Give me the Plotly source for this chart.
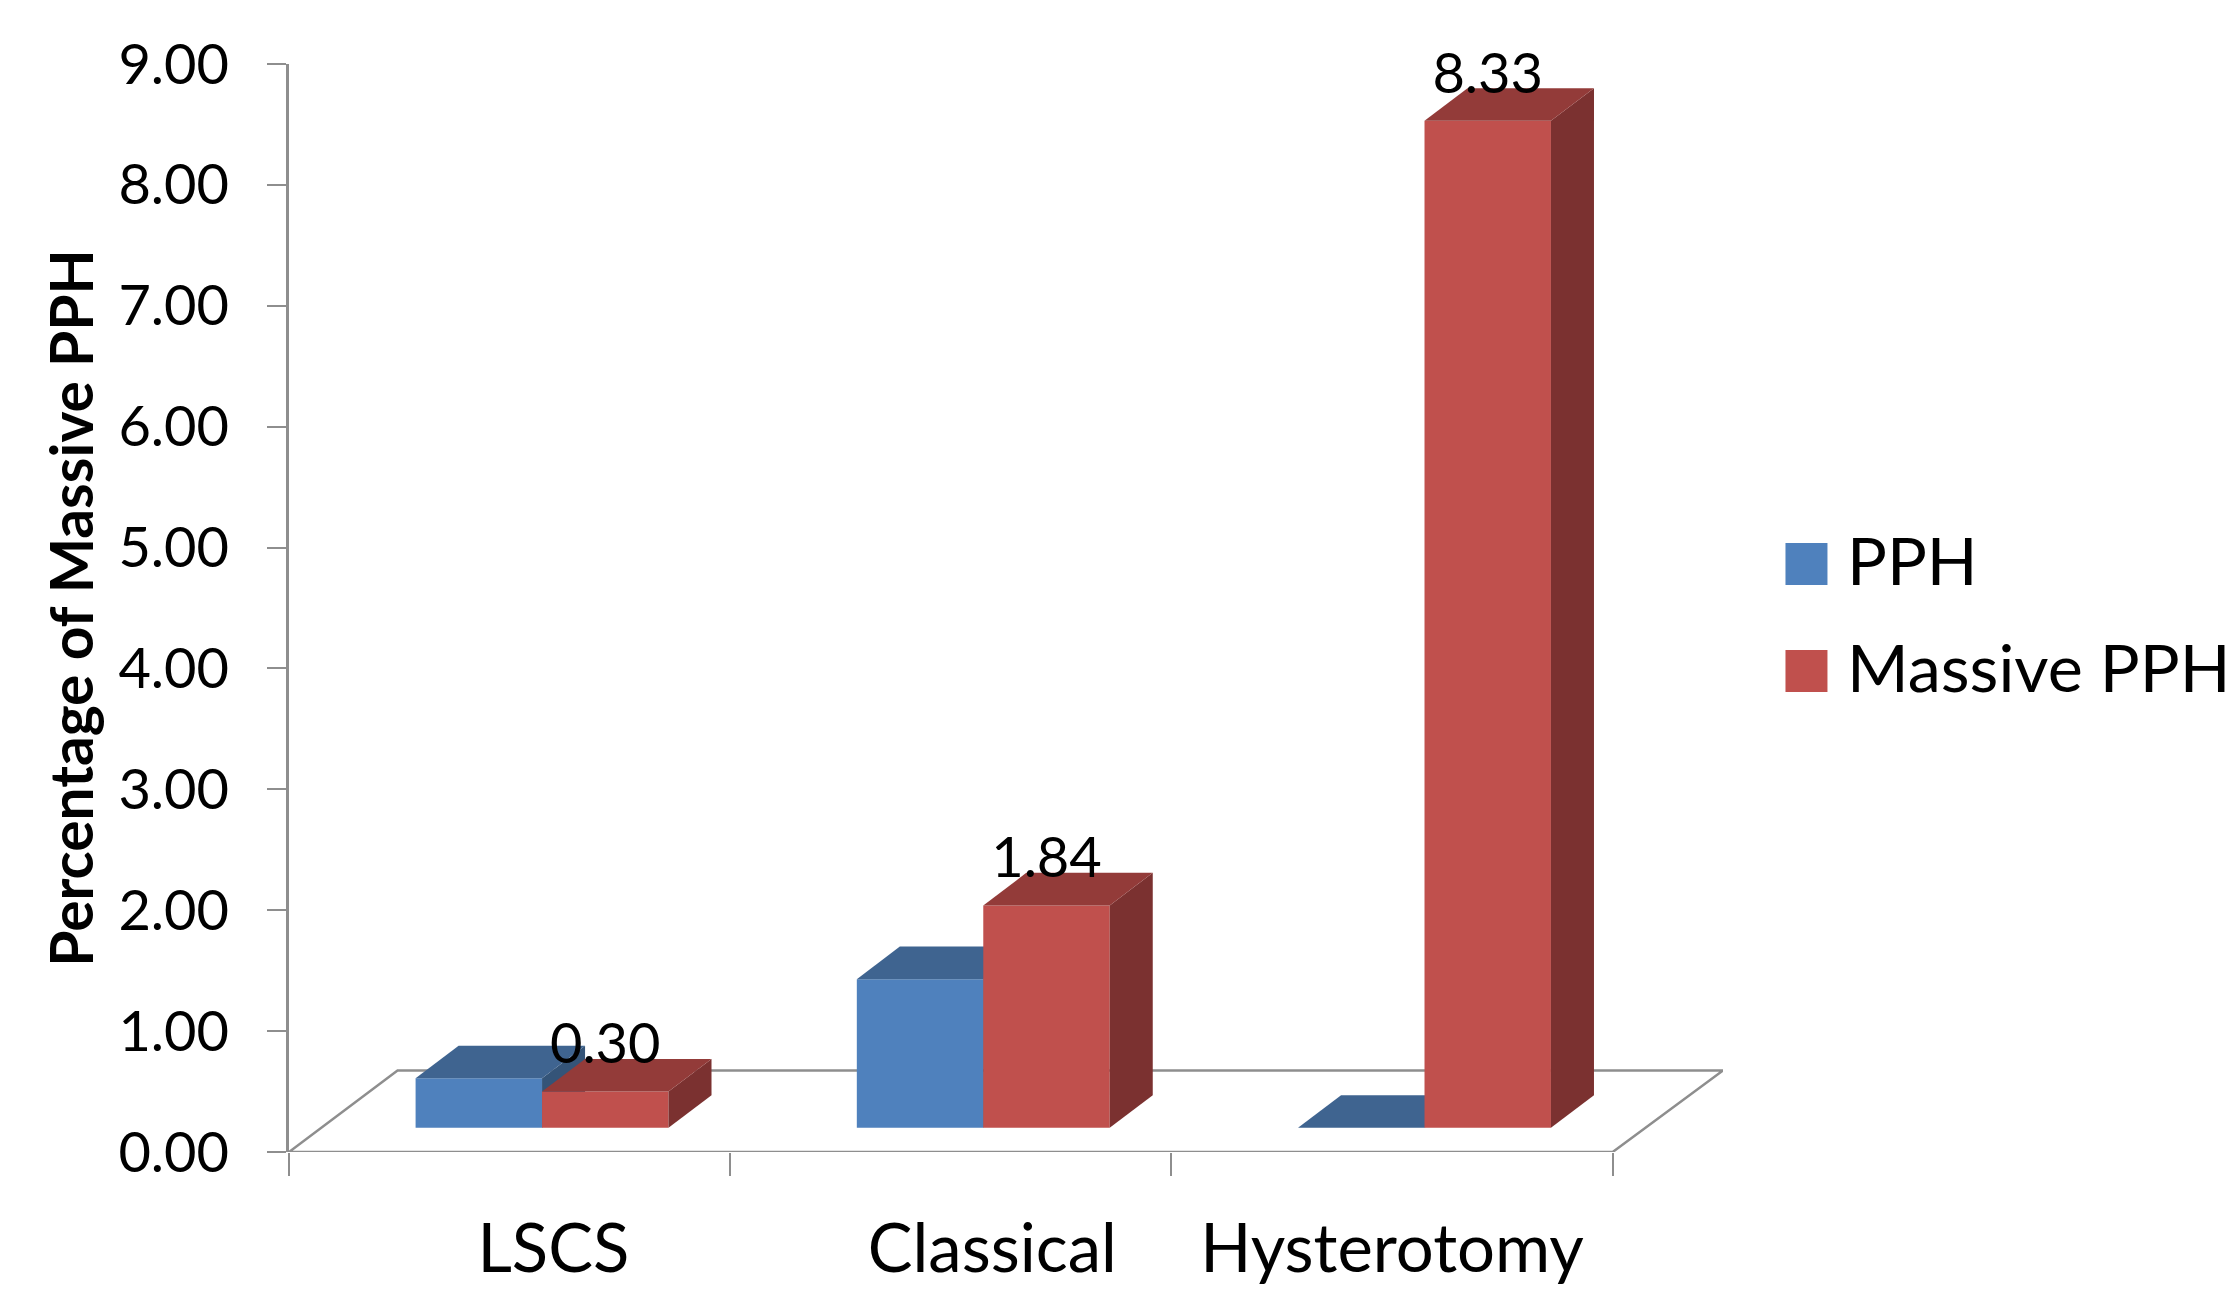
import plotly.graph_objects as go

# Data
categories = ["LSCS", "Classical", "Hysterotomy"]
pph = [0.41, 1.23, 0.0]
massive_pph = [0.30, 1.84, 8.33]
massive_labels = ["0.30", "1.84", "8.33"]
y_ticks = [0, 1, 2, 3, 4, 5, 6, 7, 8, 9]
y_tick_labels = ["0.00", "1.00", "2.00", "3.00", "4.00", "5.00", "6.00", "7.00", "8.00", "9.00"]
label_shift = [0.099, 0.094, 0.0]

# Geometry of the pseudo-3D drawing, in axis units
W, H = 2233, 1290
L, R, T, B = 289.0, 1723.5, 63.7, 1152.3
X_RANGE = [-0.5, 2.75]
Y_RANGE = [0, 9]
BAR_W = 0.2866
GROUP_SHIFT = 0.0735
FLOOR = 0.2
DX, DY = 0.0975, 0.269
FLOOR_DX, FLOOR_DY = 0.246, 0.674
FONT = "Lato"
BLUE = dict(front="#4F81BD", top="#3F6490", side="#345478")
RED = dict(front="#C0504D", top="#933B39", side="#7B3130")
GREY = "#8E8E8E"

fig = go.Figure()

# floor (lowest subplot)
fig.add_trace(go.Scatter(
    x=[-0.5, 2.5, 2.5 + FLOOR_DX + 0.004, -0.5 + FLOOR_DX, -0.5],
    y=[0, 0, FLOOR_DY, FLOOR_DY, 0],
    mode="lines", line=dict(color=GREY, width=2.5), cliponaxis=False,
    showlegend=False, hoverinfo="skip"))


def add_series(name, values, left_of_center, colors, ax):
    xa, ya = f"x{ax}", f"y{ax}"
    lefts = [i + GROUP_SHIFT + (-BAR_W if left_of_center else 0) for i in range(len(values))]
    for x0, v in zip(lefts, values):
        x1 = x0 + BAR_W
        top = FLOOR + v
        if v > 0:
            fig.add_trace(go.Scatter(
                x=[x1, x1 + DX, x1 + DX, x1, x1], y=[FLOOR, FLOOR + DY, top + DY, top, FLOOR],
                mode="lines", fill="toself", fillcolor=colors["side"], line=dict(width=0),
                xaxis=xa, yaxis=ya, showlegend=False, hoverinfo="skip", cliponaxis=False))
        fig.add_trace(go.Scatter(
            x=[x0, x1, x1 + DX, x0 + DX, x0], y=[top, top, top + DY, top + DY, top],
            mode="lines", fill="toself", fillcolor=colors["top"], line=dict(width=0),
            xaxis=xa, yaxis=ya, showlegend=False, hoverinfo="skip", cliponaxis=False))
    fig.add_trace(go.Bar(
        name=name, x=[l + BAR_W / 2 for l in lefts], y=values, base=[FLOOR] * len(values),
        width=BAR_W, marker=dict(color=colors["front"], line=dict(width=0)),
        xaxis=xa, yaxis=ya, showlegend=False))


add_series("PPH", pph, True, BLUE, 2)
add_series("Massive PPH", massive_pph, False, RED, 3)

# data labels on the red bars
fig.add_trace(go.Scatter(
    x=[i + GROUP_SHIFT + BAR_W / 2 for i in range(3)],
    y=[FLOOR + v + 0.35 for v in massive_pph],
    text=massive_labels, mode="text", textposition="middle center",
    textfont=dict(family=FONT, size=56, color="#000000"),
    xaxis="x3", yaxis="y3", showlegend=False, hoverinfo="skip", cliponaxis=False))

hidden = dict(visible=False, fixedrange=True)
fig.update_layout(
    width=W, height=H, autosize=False,
    margin=dict(l=L, r=W - R, t=T, b=H - B, pad=0, autoexpand=False),
    paper_bgcolor="#FFFFFF", plot_bgcolor="#FFFFFF",
    barmode="overlay", showlegend=False,
    font=dict(family=FONT, color="#000000"),
    xaxis=dict(
        range=X_RANGE, showgrid=False, zeroline=False, showline=False, automargin=False,
        tickmode="array", tickvals=[i + s for i, s in enumerate(label_shift)], ticktext=categories,
        ticks="", tickfont=dict(family=FONT, size=67, color="#000000"), ticklabelstandoff=52,
        minor=dict(tick0=-0.5, dtick=1, ticks="outside", ticklen=23, tickwidth=2, tickcolor=GREY, showgrid=False),
    ),
    yaxis=dict(
        range=Y_RANGE, showgrid=False, zeroline=False, showline=True, linecolor=GREY, linewidth=2.5,
        automargin=False,
        tickmode="array", tickvals=y_ticks, ticktext=y_tick_labels,
        ticks="outside", ticklen=19, tickwidth=2, tickcolor=GREY,
        tickfont=dict(family=FONT, size=56, color="#000000"), ticklabelstandoff=27,
        title=dict(text="<b>Percentage of Massive PPH</b>", font=dict(family=FONT, size=58.6, color="#000000"), standoff=6),
    ),
    xaxis2=dict(range=X_RANGE, overlaying="x", **hidden),
    yaxis2=dict(range=Y_RANGE, overlaying="y", **hidden),
    xaxis3=dict(range=X_RANGE, overlaying="x", **hidden),
    yaxis3=dict(range=Y_RANGE, overlaying="y", **hidden),
)

# hand-placed legend, to reach the reference's large swatches
legend_names = ["PPH", "Massive PPH"]
legend_colors = [BLUE["front"], RED["front"]]
legend_top = [543, 650]
for name, color, top in zip(legend_names, legend_colors, legend_top):
    fig.add_shape(type="rect", xref="paper", yref="paper",
                  x0=(1786 - L) / (R - L), x1=(1828 - L) / (R - L),
                  y0=(B - (top + 42)) / (B - T), y1=(B - top) / (B - T),
                  fillcolor=color, line=dict(width=0))
    fig.add_annotation(text=name, xref="paper", yref="paper",
                       x=(1846 - L) / (R - L), y=(B - (top + 16)) / (B - T),
                       xanchor="left", yanchor="middle", showarrow=False,
                       font=dict(family=FONT, size=66.5, color="#000000"))

fig.write_html("out.html", post_script="document.body.style.margin='0';",
               config=dict(displayModeBar=False))
